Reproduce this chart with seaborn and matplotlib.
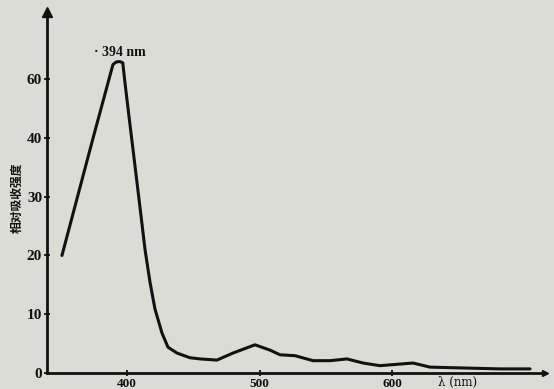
import numpy as np
import pandas as pd
import seaborn as sns
import matplotlib.pyplot as plt

# absorption spectrum
wavelength = [350.9, 374.4, 389.4, 392.0, 394.5, 396.8, 398.5, 401.5, 404.5, 407.5,
              410.6, 413.6, 417.4, 421.1, 426.4, 430.9, 437.7, 447.5, 455.1, 467.9, 480.0,
              496.6, 507.9, 515.5, 526.8, 540.4, 553.2, 566.0, 578.1, 590.9, 615.8, 628.7,
              681.5, 704.2]
intensity = [20.0, 40.0, 65.0, 65.9, 66.0, 65.6, 58.7, 47.3, 38.1, 32.5,
             26.7, 21.0, 15.4, 10.9, 6.8, 4.4, 3.4, 2.6, 2.4, 2.2, 3.4,
             4.8, 3.9, 3.1, 2.95, 2.1, 2.1, 2.4, 1.7, 1.25, 1.7, 1.0,
             0.7, 0.7]
y_ticks = [0, 10, 20, 30, 40, 60]
x_ticks = [400, 500, 600]

df = pd.DataFrame({"wl": wavelength, "val": intensity})

sns.set_style("ticks")
plt.rcParams['font.family'] = ['Liberation Serif', 'Noto Sans CJK SC', 'DejaVu Sans']

paper = "#dcdcd7"
ink = "#111111"
fig = plt.figure(figsize=(5.54, 3.89), dpi=100, facecolor=paper)
ax = fig.add_axes([0.0848, 0.0411, 0.899, 0.929])
ax.set_facecolor(paper)

# the printed y axis squeezes 40-60 into one step
def fwd(y):
    y = np.asarray(y, dtype=float)
    return np.where(y <= 40, y / 10, 4 + (y - 40) / 20)

def inv(u):
    u = np.asarray(u, dtype=float)
    return np.where(u <= 4, u * 10, 40 + (u - 4) * 20)

ax.set_yscale("function", functions=(fwd, inv))

sns.lineplot(data=df, x="wl", y="val", ax=ax, color=ink, linewidth=2.2)

ax.set_xlim(339.6, 715.5)
ax.set_ylim(0, 83)
ax.set_yticks(y_ticks)
ax.set_yticklabels([str(t) for t in y_ticks])
ax.set_xticks(x_ticks)
ax.set_xticklabels([str(t) for t in x_ticks])
ax.tick_params(axis="both", direction="inout", length=5, width=1.3,
               colors=ink, pad=1)
ax.tick_params(axis="y", labelsize=11)
ax.tick_params(axis="x", labelsize=9.5)
for lab in ax.get_xticklabels() + ax.get_yticklabels():
    lab.set_fontweight("bold")
sns.despine(ax=ax)
for side in ["left", "bottom"]:
    ax.spines[side].set_linewidth(2)
    ax.spines[side].set_color(ink)
ax.plot(0, 1, marker="^", color=ink, markersize=7, transform=ax.transAxes, clip_on=False)
ax.plot(1, 0, marker=">", color=ink, markersize=5, transform=ax.transAxes, clip_on=False)

ax.set_xlabel("")
ax.set_ylabel("")
fig.text(17 / 554, 1 - 198 / 389, "相对吸收强度", rotation=90, ha="center", va="center",
         family=['Noto Sans CJK SC', 'DejaVu Sans'], fontsize=8.5, fontweight="bold", color=ink)
fig.text(458 / 554, 1 - 382 / 389, "λ (nm)", ha="center", va="center",
         fontsize=8.5, color=ink, family=['DejaVu Serif'])
fig.text(94 / 554, 1 - 53 / 389, "· 394 nm", ha="left", va="center",
         fontsize=10, fontweight="bold", color=ink)

fig.savefig("out.png", dpi=100, facecolor=paper)
